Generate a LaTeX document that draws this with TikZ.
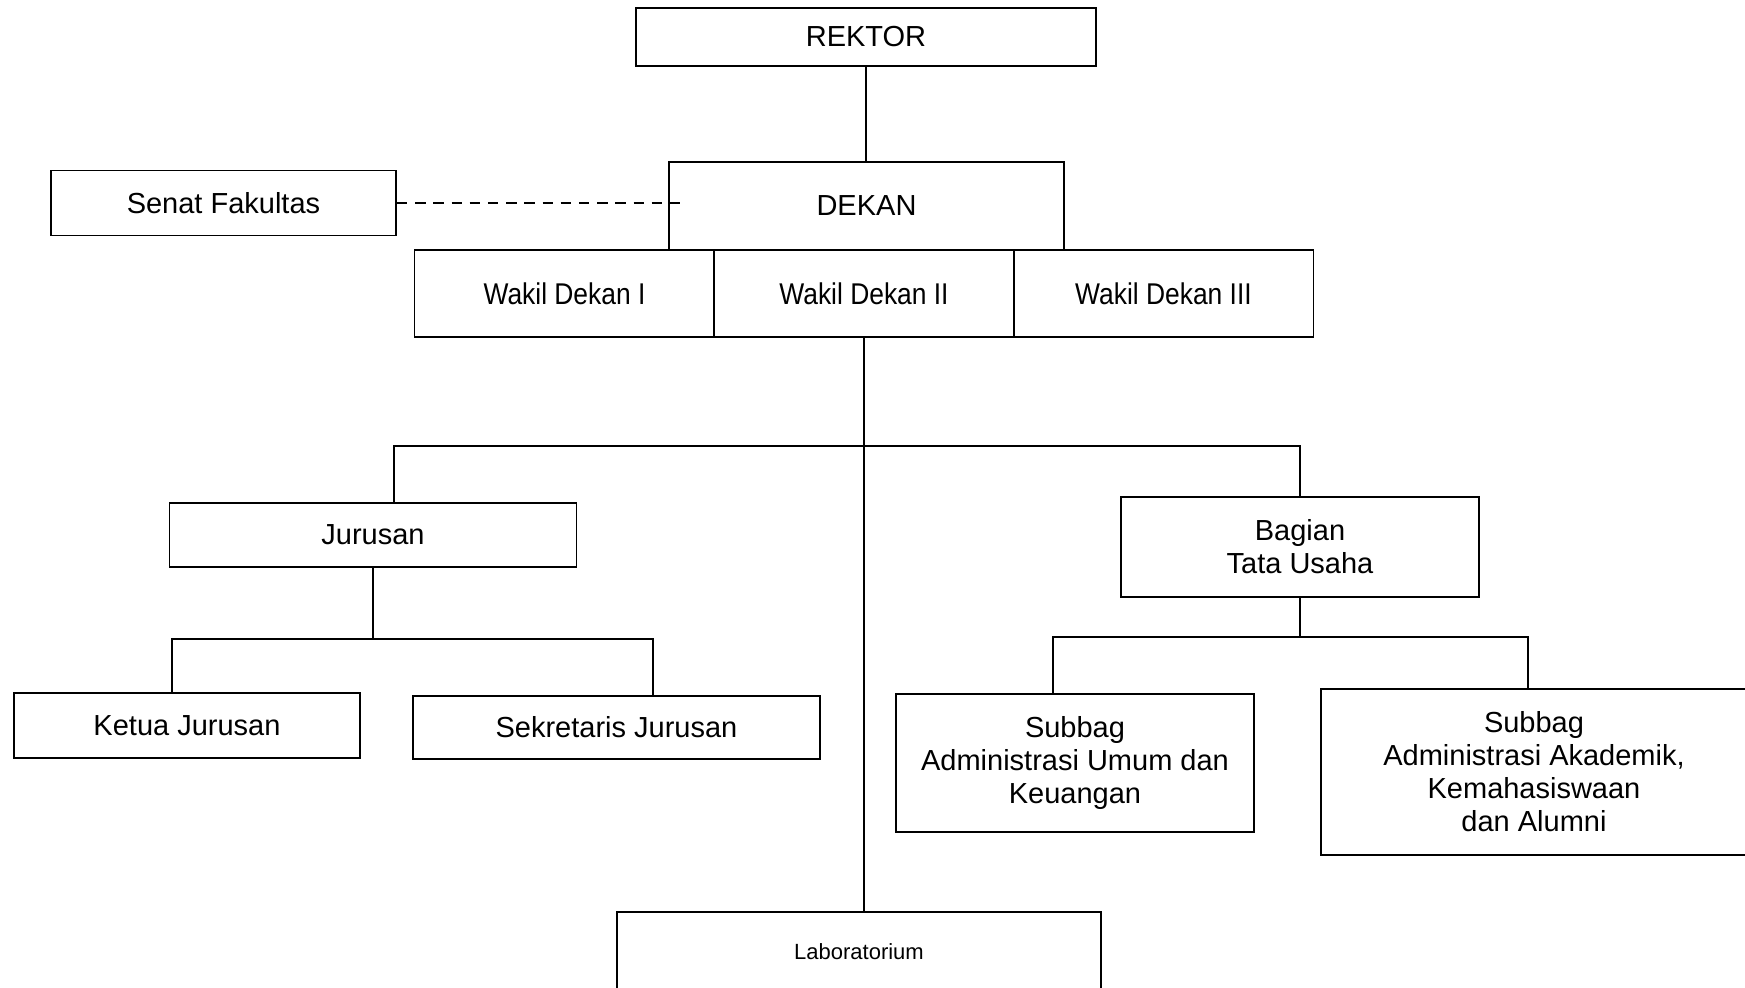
\documentclass[tikz,border=0pt]{standalone}
\usepackage{fontspec}
\setmainfont{Liberation Sans}
\newfontfamily\narrowfont{Liberation Sans}[FakeStretch=0.88]
\usetikzlibrary{positioning}

\begin{document}
\begin{tikzpicture}[x=0.5pt, y=-0.5pt,
        unit/.style={draw, line width=0.9pt, inner sep=0pt, align=center,
          font=\fontsize{14.5}{16.5}\selectfont},
        wakil/.style={unit, minimum width=150pt, minimum height=43.5pt,
          font=\narrowfont\fontsize{15}{17}\selectfont},
        link/.style={line width=1pt}]
    \useasboundingbox (0,0) rectangle (1745,988);
          \node[unit, minimum width=230pt, minimum height=29pt] (rektor) at (866,37) {REKTOR};
          \node[unit, minimum width=197.5pt, minimum height=44pt] (dekan) at (866.5,206) {DEKAN};
          \node[unit, minimum width=172.5pt, minimum height=32.5pt] (senat) at (223.5,203) {Senat Fakultas};
          \node[wakil] (wd1) at (564.5,293.5) {Wakil Dekan I};
          \node[wakil] (wd2) at (864,293.5) {Wakil Dekan II};
          \node[wakil] (wd3) at (1163.5,293.5) {Wakil Dekan III};
          \node[unit, minimum width=203.5pt, minimum height=32pt] (jurusan) at (373,535) {Jurusan};
          \node[unit, minimum width=173pt, minimum height=32.5pt] (ketua) at (187,725.5) {Ketua Jurusan};
          \node[unit, minimum width=203.5pt, minimum height=31.5pt] (sekretaris) at (616.5,727.5) {Sekretaris Jurusan};
          \node[unit, minimum width=179pt, minimum height=50pt] (bagian) at (1300,547) {Bagian\\Tata Usaha};
          \node[unit, minimum width=179pt, minimum height=69pt] (umum) at (1075,763) {Subbag\\Administrasi Umum dan\\Keuangan};
          \node[unit, minimum width=213pt, minimum height=83pt] (akademik) at (1534,772) {Subbag\\Administrasi Akademik,\\Kemahasiswaan\\dan Alumni};
          \node[unit, minimum width=242pt, minimum height=40pt, font=\fontsize{11}{13}\selectfont] (lab) at (859,952) {Laboratorium};
    % lines
    \coordinate (senatend) at (684,202);
    \coordinate (busL) at (394,446);
    \coordinate (busR) at (1300,446);
    \coordinate (jbusL) at (172,639);
    \coordinate (jbusR) at (653,639);
    \coordinate (tbusL) at (1053,637);
    \coordinate (tbusR) at (1528,637);
    \draw[link] (rektor.south) -- (rektor.south |- dekan.north);
    \draw[link, dash pattern=on 5.2pt off 3.9pt] (senat.east) -- (senat.east -| senatend);
    \draw[link] (wd2.south) -- (wd2.south |- lab.north);
    \draw[link] (busL |- jurusan.north) -- (busL) -- (busR) -- (busR |- bagian.north);
    \draw[link] (jurusan.south) -- (jurusan.south |- jbusL);
    \draw[link] (jbusL |- ketua.north) -- (jbusL) -- (jbusR) -- (jbusR |- sekretaris.north);
    \draw[link] (bagian.south) -- (bagian.south |- tbusL);
    \draw[link] (tbusL |- umum.north) -- (tbusL) -- (tbusR) -- (tbusR |- akademik.north);
    \end{tikzpicture}
\end{document}
